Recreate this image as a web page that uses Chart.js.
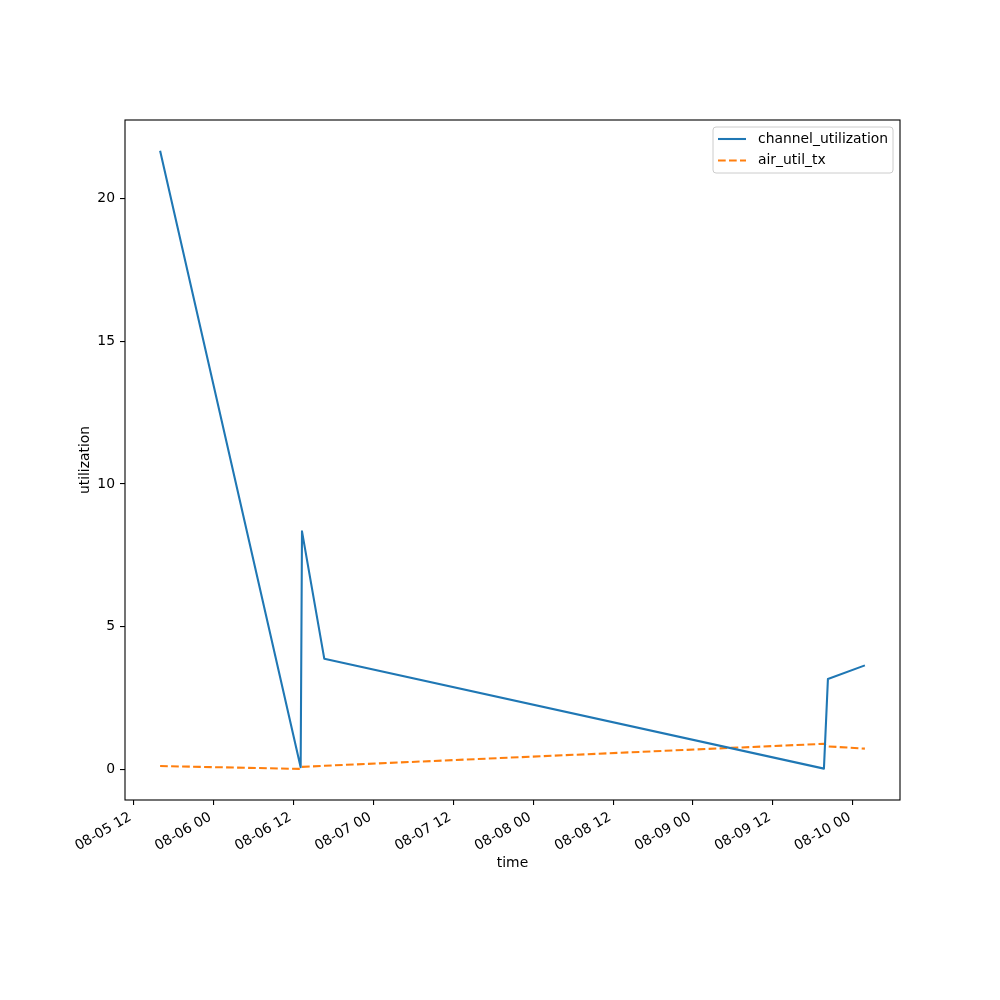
<!DOCTYPE html>
<html lang="en">
<head>
    <meta charset="UTF-8">
    <title>utilization</title>
    <script src="https://cdn.jsdelivr.net/npm/chart.js"></script>
    <style>
        html, body { margin: 0; padding: 0; background: #fff; }
        #grafica { display: block; }
    </style>
</head>
<body>
    <canvas id="grafica" width="1000" height="1000"></canvas>

    <script>
        // data (times as MM-DD HH:MM)
        const times = ['08-05 16:00', '08-06 13:06', '08-06 13:18', '08-06 16:39', '08-09 19:39', '08-09 20:15', '08-10 01:48'];
        const channelUtil = [21.68, 0.07, 8.34, 3.87, 0.02, 3.16, 3.64];
        const airUtilTx = [0.11, 0.01, 0.08, 0.12, 0.89, 0.80, 0.72];
        const xTickHours = [0, 12, 24, 36, 48, 60, 72, 84, 96, 108];
        const yTickValues = [0, 5, 10, 15, 20];

        const base = Date.UTC(2024, 7, 5, 12, 0);
        function toHours(s) {
            const [md, hm] = s.split(' ');
            const [m, d] = md.split('-').map(Number);
            const [h, mi] = hm.split(':').map(Number);
            return (Date.UTC(2024, m - 1, d, h, mi) - base) / 3600000;
        }
        function fmtHour(v) {
            const d = new Date(base + v * 3600000);
            const p = n => String(n).padStart(2, '0');
            return p(d.getUTCMonth() + 1) + '-' + p(d.getUTCDate()) + ' ' + p(d.getUTCHours());
        }
        const xs = times.map(toHours);

        Chart.defaults.font.family = 'DejaVu Sans';
        Chart.defaults.font.size = 13.9;
        Chart.defaults.color = '#000';

        // frame round the plot + matplotlib style legend
        const marco = {
            id: 'marco',
            afterDraw(chart) {
                const c = chart.ctx, a = chart.chartArea;
                c.save();
                c.strokeStyle = '#000';
                c.lineWidth = 1.1;
                c.strokeRect(a.left, a.top, a.right - a.left, a.bottom - a.top);

                // legend
                const lx = 713, ly = 127, lw = 180, lh = 46, r = 3;
                c.beginPath();
                c.moveTo(lx + r, ly);
                c.arcTo(lx + lw, ly, lx + lw, ly + lh, r);
                c.arcTo(lx + lw, ly + lh, lx, ly + lh, r);
                c.arcTo(lx, ly + lh, lx, ly, r);
                c.arcTo(lx, ly, lx + lw, ly, r);
                c.closePath();
                c.fillStyle = 'rgba(255,255,255,0.8)';
                c.fill();
                c.strokeStyle = '#cccccc';
                c.lineWidth = 1;
                c.stroke();

                c.font = '13.9px "DejaVu Sans"';
                c.textBaseline = 'middle';
                chart.data.datasets.forEach((ds, i) => {
                    const yy = 139 + i * 21.5;
                    c.beginPath();
                    c.setLineDash(ds.borderDash || []);
                    c.strokeStyle = ds.borderColor;
                    c.lineWidth = ds.borderWidth;
                    c.moveTo(718, yy);
                    c.lineTo(746, yy);
                    c.stroke();
                    c.setLineDash([]);
                    c.fillStyle = '#000';
                    c.fillText(ds.label, 758, yy);
                });
                c.restore();
            }
        };

        const ctx = document.getElementById('grafica').getContext('2d');
        new Chart(ctx, {
            type: 'line',
            data: {
                datasets: [{
                    label: 'channel_utilization',
                    data: xs.map((x, i) => ({ x: x, y: channelUtil[i] })),
                    borderColor: '#1f77b4',
                    borderWidth: 2.08,
                    borderJoinStyle: 'round',
                    pointRadius: 0,
                    tension: 0,
                    fill: false
                }, {
                    label: 'air_util_tx',
                    data: xs.map((x, i) => ({ x: x, y: airUtilTx[i] })),
                    borderColor: '#ff7f0e',
                    borderWidth: 2.08,
                    borderDash: [7.7, 3.3],
                    borderJoinStyle: 'round',
                    pointRadius: 0,
                    tension: 0,
                    fill: false
                }]
            },
            options: {
                responsive: false,
                animation: false,
                layout: { padding: { left: 0, right: 100, top: 120, bottom: 0 } },
                plugins: { legend: { display: false }, tooltip: { enabled: false } },
                scales: {
                    x: {
                        type: 'linear',
                        min: -1.27,
                        max: 115.07,
                        afterBuildTicks: s => { s.ticks = xTickHours.map(v => ({ value: v })); },
                        afterFit: s => { s.height = 200; },
                        ticks: {
                            callback: v => fmtHour(v),
                            minRotation: 30,
                            maxRotation: 30,
                            padding: 4,
                            labelOffset: -3,
                            autoSkip: false
                        },
                        grid: { drawOnChartArea: false, drawTicks: true, tickLength: 5, color: '#000', lineWidth: 1.1 },
                        border: { display: false },
                        title: { display: true, text: 'time', padding: { top: 0, bottom: 128.7 } }
                    },
                    y: {
                        min: -1.08,
                        max: 22.76,
                        afterBuildTicks: s => { s.ticks = yTickValues.map(v => ({ value: v })); },
                        afterFit: s => { s.width = 125; },
                        ticks: { padding: 5 },
                        grid: { drawOnChartArea: false, drawTicks: true, tickLength: 5, color: '#000', lineWidth: 1.1 },
                        border: { display: false },
                        title: { display: true, text: 'utilization', padding: { top: 77, bottom: 0 } }
                    }
                }
            },
            plugins: [marco]
        });
    </script>
</body>
</html>
